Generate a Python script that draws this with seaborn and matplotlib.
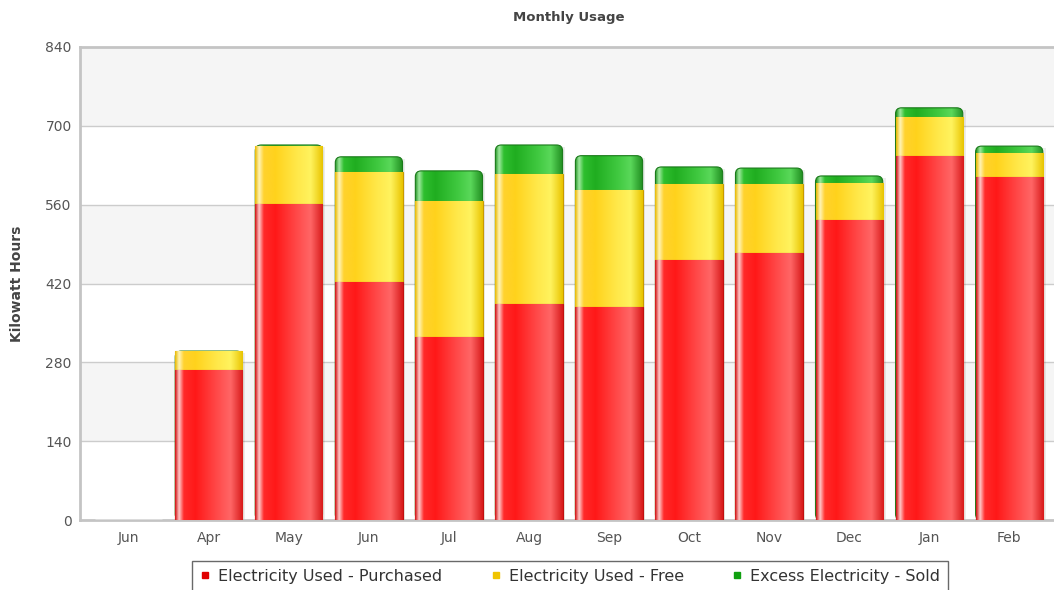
import numpy as np
import pandas as pd
import matplotlib
matplotlib.use("Agg")
import matplotlib.pyplot as plt
from matplotlib.colors import LinearSegmentedColormap
from matplotlib.lines import Line2D
from matplotlib.patches import FancyBboxPatch, Rectangle
import seaborn as sns

months = ["Jun", "Apr", "May", "Jun", "Jul", "Aug", "Sep", "Oct", "Nov", "Dec", "Jan", "Feb"]
purchased = [0, 266, 561, 423, 325, 384, 378, 462, 474, 533, 647, 609]
free = [0, 34, 103, 195, 242, 231, 208, 135, 123, 66, 69, 43]
sold = [0, 0, 2, 27, 53, 51, 61, 30, 28, 12, 16, 12]
series_names = ["Electricity Used - Purchased", "Electricity Used - Free", "Excess Electricity - Sold"]
yticks = [0, 140, 280, 420, 560, 700, 840]

df = pd.DataFrame({"pos": range(len(months)), "month": months,
                   "purchased": purchased, "free": free, "sold": sold})
df["used"] = df["purchased"] + df["free"]
df["total"] = df["used"] + df["sold"]

sns.set_theme(style="white")
plt.rcParams["font.family"] = ["DejaVu Sans"]

fig = plt.figure(figsize=(10.54, 5.90), dpi=100)
ax = fig.add_axes([80 / 1054, 1 - 520 / 590, 1 - 80 / 1054, (520 - 47) / 590])

# alternating background bands
for i, (lo, hi) in enumerate(zip(yticks[:-1], yticks[1:])):
    ax.axhspan(lo, hi, color="#f5f5f5" if i % 2 == 1 else "white", zorder=0, lw=0)
for t in yticks[1:-1]:
    ax.axhline(t, color="#cccccc", lw=1, zorder=0.5)

stops = {
    "sold": ["#1f931f", "#9ee89e", "#2fbf2f", "#20ad20", "#3fc83f", "#5ad85a", "#1f8c1f"],
    "used": ["#e8b800", "#fff4b8", "#ffd22e", "#ffd21c", "#ffe84a", "#fff35e", "#e8c400"],
    "purchased": ["#d01010", "#ffc8c8", "#ff2a2a", "#ff1818", "#ff4a4a", "#ff6666", "#d81a1a"],
}
edges = {"sold": "#1a7a1a", "used": "#c89a00", "purchased": "#c01010"}
nodes = [0, 0.06, 0.13, 0.3, 0.62, 0.82, 1.0]
grad = np.linspace(0, 1, 256).reshape(1, -1)

for i, col in enumerate(["sold", "used", "purchased"]):
    key = "total" if col == "sold" else col
    n_before = len(ax.patches)
    sns.barplot(data=df, x="pos", y=key, ax=ax, color=stops[col][3], width=0.84,
                saturation=1, errorbar=None, zorder=2 + i)
    cmap = LinearSegmentedColormap.from_list(col, list(zip(nodes, stops[col])))
    for p in list(ax.patches[n_before:]):
        h = p.get_height()
        if h <= 0:
            continue
        x0, w = p.get_x(), p.get_width()
        clip = p
        if col == "sold":
            # soft shadow on the right and rounded top corners
            ax.add_patch(Rectangle((x0 + 0.035, 0), w, h - 4, color="black", alpha=0.07,
                                   lw=0, zorder=1.5))
            p.set_visible(False)
            clip = FancyBboxPatch((x0, 0), w, h, boxstyle="round,pad=0,rounding_size=0.075",
                                  mutation_aspect=140, facecolor="none",
                                  edgecolor=edges[col], lw=0.8, zorder=2 + 0.2)
            ax.add_patch(clip)
        else:
            p.set_edgecolor(edges[col])
            p.set_linewidth(0.8)
        im = ax.imshow(grad, cmap=cmap, aspect="auto", extent=[x0, x0 + w, 0, h],
                       zorder=2 + i + 0.1, interpolation="bilinear")
        im.set_clip_path(clip)

ax.set_xlim(-0.61, 11.56)
ax.set_ylim(0, 840)
ax.set_yticks(yticks)
ax.set_yticklabels([str(t) for t in yticks], color="#555555", fontsize=10)
ax.set_xticks(range(len(months)))
ax.set_xticklabels(months, color="#555555", fontsize=10)
ax.tick_params(axis="x", pad=8, length=0)
ax.tick_params(axis="y", pad=6, length=0)
ax.set_xlabel("")
ax.set_ylabel("Kilowatt Hours", fontsize=10, fontweight="bold", color="#444444")
ax.yaxis.set_label_coords(-0.057, 0.5)

for s in ["left", "bottom", "top"]:
    ax.spines[s].set_visible(True)
    ax.spines[s].set_color("#c4c4c4")
    ax.spines[s].set_linewidth(2)
ax.spines["right"].set_visible(False)

fig.text(569 / 1054, 1 - 18 / 590, "Monthly Usage", ha="center", va="center",
         fontsize=9.5, fontweight="bold", color="#444444")

handles = [Line2D([], [], marker="s", ls="", color=c, markersize=4.5)
           for c in ["#e00000", "#f0c400", "#10a010"]]
leg = fig.legend(handles, series_names, loc="upper center", bbox_to_anchor=(570 / 1054, 1 - 561 / 590),
                 ncol=3, frameon=True, fontsize=11.5, handletextpad=0.45, columnspacing=3.0,
                 handlelength=0.7, borderpad=0.5, borderaxespad=0, fancybox=False)
leg.get_frame().set_edgecolor("#444444")
leg.get_frame().set_linewidth(1)
for t in leg.get_texts():
    t.set_color("#333333")

fig.savefig("out.png", dpi=100)
